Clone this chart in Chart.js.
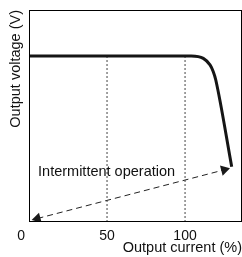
<!DOCTYPE html>
<html lang="en">
<head>
  <meta charset="UTF-8">
  <title>Output voltage vs output current</title>
  <script src="https://cdn.jsdelivr.net/npm/chart.js@4.4.1/dist/chart.umd.min.js"></script>
  <style>
    html, body { margin: 0; padding: 0; background: #fff; overflow: hidden; }
    canvas { display: block; }
  </style>
</head>
<body>
  <canvas id="chart" width="242" height="257"></canvas>

  <script>
    // characteristic curve
    const curveX = [0, 104, 111.7, 116, 118.1, 119.7, 129.9]
    const curveY = [78.3, 78.3, 77.2, 74.1, 70.9, 67.0, 26.1]

    // dotted guide lines at 50 % and 100 %
    const guideX = [50, 100]
    const guideTop = 78.3

    // intermittent operation arrow (both ends)
    const arrowX = [5.4, 125.1]
    const arrowY = [1.65, 24.6]
    const arrowAngle = [255, 75]

    const xTicks = [0, 50, 100]
    const xTitle = "Output current (%)"
    const yTitle = "Output voltage (V)"
    const noteText = "Intermittent operation"
    const noteAt = { x: 5.8, y: 23.7 }

    const font = "'Liberation Sans', Arial, sans-serif"

    const datasets = [{
      label: "curve",
      data: curveX.map((x, i) => ({ x: x, y: curveY[i] })),
      borderColor: "#151515",
      borderWidth: 3,
      pointRadius: 0,
      pointHoverRadius: 0,
      cubicInterpolationMode: "monotone"
    }]

    for (const gx of guideX) {
      datasets.push({
        label: "guide " + gx,
        data: [{ x: gx, y: 0 }, { x: gx, y: guideTop }],
        borderColor: "#444",
        borderWidth: 1,
        borderDash: [2, 2],
        pointRadius: 0,
        pointHoverRadius: 0
      })
    }

    datasets.push({
      label: "arrow",
      data: arrowX.map((x, i) => ({ x: x, y: arrowY[i] })),
      borderColor: "#222",
      borderWidth: 1,
      borderDash: [6, 4],
      pointStyle: "triangle",
      pointRadius: 6,
      pointHoverRadius: 6,
      pointRotation: arrowAngle,
      pointBackgroundColor: "#1a1a1a",
      pointBorderColor: "#1a1a1a",
      pointBorderWidth: 0
    })

    const frame = {
      id: "frame",
      afterDraw(chart) {
        const { ctx, chartArea: a, scales } = chart
        ctx.save()
        ctx.strokeStyle = "#000"
        ctx.lineWidth = 1
        ctx.strokeRect(a.left + 0.5, a.top + 0.5, a.right - a.left - 1, a.bottom - a.top - 1)
        ctx.fillStyle = "#111"
        ctx.font = "14.5px " + font
        ctx.textAlign = "left"
        ctx.textBaseline = "middle"
        ctx.fillText(noteText, scales.x.getPixelForValue(noteAt.x), scales.y.getPixelForValue(noteAt.y))
        ctx.restore()
      }
    }

    new Chart(document.getElementById("chart"), {
      type: "scatter",
      data: { datasets: datasets },
      options: {
        responsive: false,
        animation: false,
        showLine: true,
        events: [],
        layout: { autoPadding: false, padding: { top: 10, right: 0, left: 0, bottom: 0 } },
        plugins: { legend: { display: false }, tooltip: { enabled: false } },
        scales: {
          x: {
            type: "linear",
            min: 0,
            max: 136.5,
            afterBuildTicks: s => { s.ticks = xTicks.map(v => ({ value: v })) },
            afterFit: s => { s.height = 35 },
            grid: { display: false, drawTicks: false, tickLength: 0 },
            border: { display: false },
            ticks: {
              padding: 6,
              color: "#111",
              font: { family: font, size: 14 },
              maxRotation: 0,
              callback: v => v === 0 ? "0    " : String(v)
            },
            title: {
              display: true,
              text: xTitle,
              align: "end",
              color: "#111",
              font: { family: font, size: 14.5 },
              padding: { top: 0, bottom: 0 }
            }
          },
          y: {
            type: "linear",
            min: 0,
            max: 100,
            afterFit: s => { s.width = 29 },
            grid: { display: false, drawTicks: false, tickLength: 0 },
            border: { display: false },
            ticks: { display: false },
            title: {
              display: true,
              text: yTitle,
              align: "end",
              color: "#111",
              font: { family: font, size: 14.5 },
              padding: { top: 7, bottom: 0 }
            }
          }
        }
      },
      plugins: [frame]
    })
  </script>
</body>
</html>
